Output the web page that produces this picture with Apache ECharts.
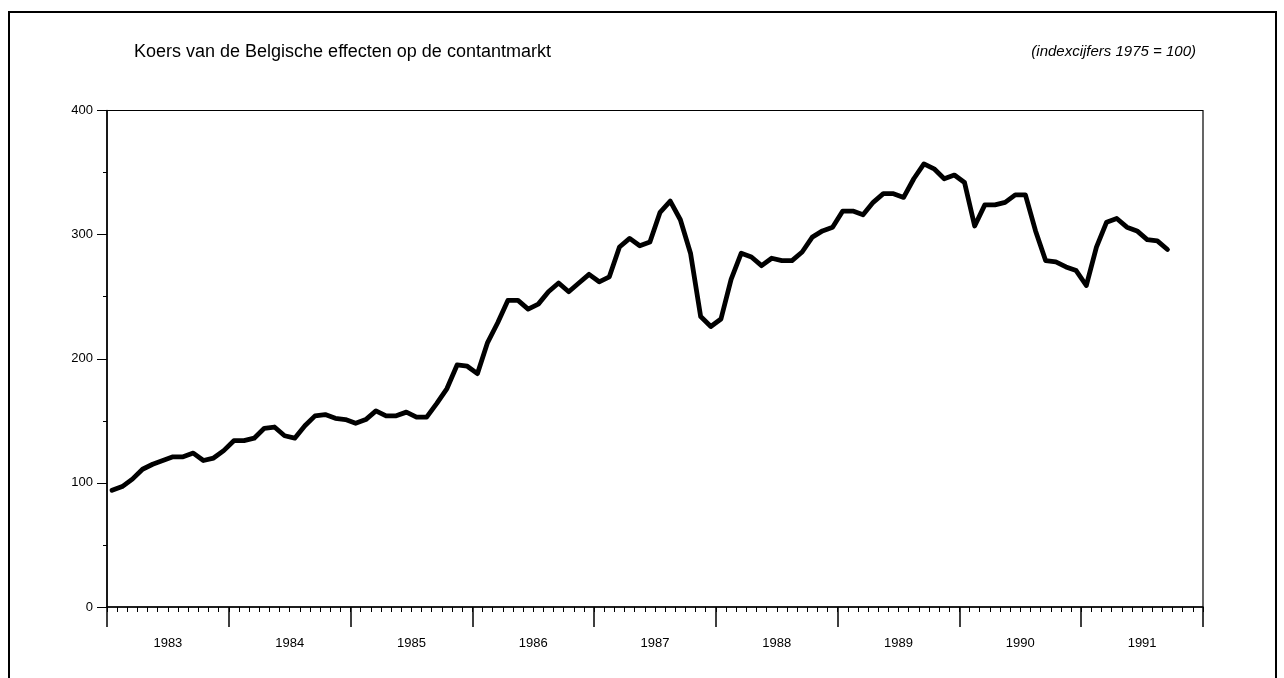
<!DOCTYPE html>
<html>
<head>
<meta charset="utf-8">
<script src="https://cdn.jsdelivr.net/npm/echarts@6/dist/echarts.min.js"></script>
<style>
html,body{margin:0;padding:0;background:#fff;}
#chart{width:1284px;height:678px;}
</style>
</head>
<body>
<div id="chart"></div>
<script>
// Data: monthly index, Jan 1983 – Sep 1991
const years = ['1983','1984','1985','1986','1987','1988','1989','1990','1991'];
const monthLabels = ['jan','feb','mrt','apr','mei','jun','jul','aug','sep','okt','nov','dec'];
const values = [
  94, 97, 103, 111, 115, 118, 121, 121, 124, 118, 120, 126,
  134, 134, 136, 144, 145, 138, 136, 146, 154, 155, 152, 151,
  148, 151, 158, 154, 154, 157, 153, 153, 164, 176, 195, 194,
  188, 213, 229, 247, 247, 240, 244, 254, 261, 254, 261, 268,
  262, 266, 290, 297, 291, 294, 318, 327, 312, 285, 234, 226,
  232, 264, 285, 282, 275, 281, 279, 279, 286, 298, 303, 306,
  319, 319, 316, 326, 333, 333, 330, 345, 357, 353, 345, 348,
  342, 307, 324, 324, 326, 332, 332, 303, 279, 278, 274, 271,
  259, 290, 310, 313, 306, 303, 296, 295, 288
];
const yTicks = [0, 100, 200, 300, 400];
const titleText = 'Koers van de Belgische effecten op de contantmarkt';
const unitText = '(indexcijfers 1975 = 100)';

const monthCats = [];
years.forEach(y => monthLabels.forEach(m => monthCats.push(m + ' ' + y)));

const FONT = '"Liberation Sans", Arial, Helvetica, sans-serif';
const chart = echarts.init(document.getElementById('chart'), null, {renderer: 'canvas'});
chart.setOption({
  backgroundColor: '#fff',
  animation: false,
  textStyle: {fontFamily: FONT, color: '#000'},
  grid: {left: 107, right: 81, top: 110.5, bottom: 71, show: true, borderColor: '#000', borderWidth: 1.2, backgroundColor: 'transparent'},
  graphic: [
    {type: 'rect', shape: {x: 9, y: 12, width: 1267, height: 700}, style: {fill: 'none', stroke: '#000', lineWidth: 2}, silent: true},
    {type: 'text', x: 134, y: 52, style: {text: titleText, font: '18px ' + FONT, fill: '#000', textVerticalAlign: 'middle', textAlign: 'left'}},
    {type: 'text', x: 1196, y: 52, style: {text: unitText, font: 'italic 15px ' + FONT, fill: '#000', textVerticalAlign: 'middle', textAlign: 'right'}}
  ],
  xAxis: [
    {
      type: 'category', data: monthCats, boundaryGap: true, position: 'bottom',
      axisLine: {show: true, lineStyle: {color: '#000', width: 1.5}},
      axisTick: {show: true, interval: 0, length: 5, lineStyle: {color: '#000', width: 1}},
      axisLabel: {show: false}, splitLine: {show: false}
    },
    {
      type: 'value', min: 0, max: 108, interval: 12, position: 'bottom',
      axisLine: {show: false},
      axisTick: {show: true, length: 20, lineStyle: {color: '#000', width: 1.5}},
      axisLabel: {show: false}, splitLine: {show: false}
    },
    {
      type: 'category', data: years, boundaryGap: true, position: 'bottom',
      axisLine: {show: false}, axisTick: {show: false},
      axisLabel: {show: true, margin: 30, fontSize: 13, color: '#000', fontFamily: FONT},
      splitLine: {show: false}
    }
  ],
  yAxis: {
    type: 'value', min: yTicks[0], max: yTicks[yTicks.length - 1], interval: 100,
    axisLine: {show: true, lineStyle: {color: '#000', width: 1.5}},
    axisTick: {show: true, inside: false, length: 10, lineStyle: {color: '#000', width: 1}},
    minorTick: {show: true, splitNumber: 2, length: 4, lineStyle: {color: '#000', width: 1}},
    axisLabel: {margin: 14, fontSize: 13, color: '#000', fontFamily: FONT},
    splitLine: {show: false}
  },
  series: [{
    type: 'line', xAxisIndex: 0, yAxisIndex: 0,
    data: values, showSymbol: false, symbol: 'none',
    lineStyle: {color: '#000', width: 4.8, join: 'round', cap: 'round'}
  }]
});
</script>
</body>
</html>
